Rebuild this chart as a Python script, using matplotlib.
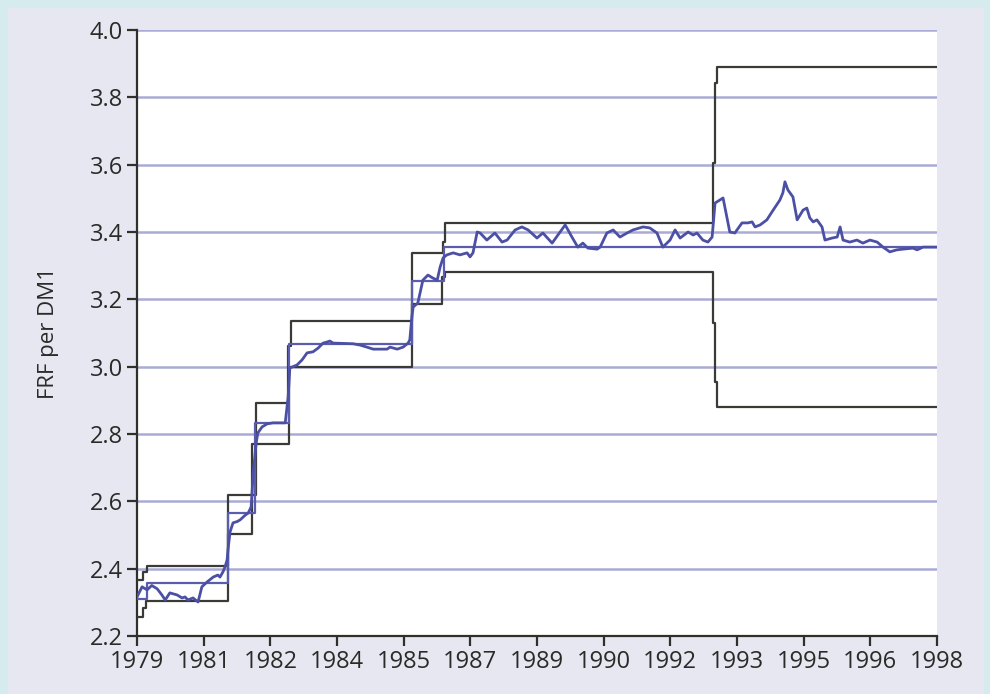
import numpy as np
import matplotlib
matplotlib.use("Agg")
import matplotlib.pyplot as plt
from matplotlib.patches import Rectangle

# x values are positions on the chart's year axis (1979 .. 1998)
tick_pos = np.linspace(1979, 1998, 13)
tick_labels = ["1979", "1981", "1982", "1984", "1985", "1987", "1989",
               "1990", "1992", "1993", "1995", "1996", "1998"]

# ERM central parity (step, held until the next point)
central_x = [1979.00, 1979.24, 1981.16, 1981.80, 1982.61, 1985.53, 1986.29, 1998.00]
central_y = [2.310, 2.357, 2.565, 2.833, 3.067, 3.254, 3.354, 3.354]

# upper and lower intervention limits
upper_x = [1979.00, 1979.14, 1979.24, 1981.16, 1981.83, 1982.59, 1982.66, 1985.53,
           1986.27, 1986.32, 1992.68, 1992.73, 1992.78, 1998.00]
upper_y = [2.366, 2.390, 2.408, 2.619, 2.892, 3.060, 3.136, 3.337,
           3.370, 3.426, 3.605, 3.843, 3.890, 3.890]
lower_x = [1979.00, 1979.14, 1979.21, 1981.16, 1981.73, 1982.61, 1985.53,
           1986.24, 1986.32, 1992.68, 1992.73, 1992.78, 1998.00]
lower_y = [2.256, 2.283, 2.304, 2.503, 2.770, 2.999, 3.186,
           3.266, 3.281, 3.130, 2.954, 2.880, 2.880]

# market rate, FRF per DM
rate_x = [1979.00, 1979.12, 1979.24, 1979.35, 1979.48, 1979.59, 1979.67, 1979.78,
          1979.95, 1980.07, 1980.14, 1980.21, 1980.33, 1980.45, 1980.54, 1980.66,
          1980.81, 1980.92, 1980.97, 1981.04, 1981.09, 1981.14, 1981.16, 1981.21,
          1981.28, 1981.38, 1981.45, 1981.57, 1981.64, 1981.71, 1981.73, 1981.76,
          1981.83, 1981.87, 1981.97, 1982.09, 1982.23, 1982.52, 1982.59, 1982.63,
          1982.80, 1982.92, 1983.04, 1983.18, 1983.30, 1983.42, 1983.51, 1983.58,
          1983.66, 1984.13, 1984.30, 1984.46, 1984.61, 1984.94, 1985.01, 1985.18,
          1985.32, 1985.44, 1985.48, 1985.53, 1985.56, 1985.67, 1985.79, 1985.91,
          1986.03, 1986.13, 1986.20, 1986.27, 1986.36, 1986.51, 1986.67, 1986.84,
          1986.91, 1986.98, 1987.08, 1987.15, 1987.31, 1987.50, 1987.67, 1987.79,
          1987.98, 1988.14, 1988.29, 1988.50, 1988.64, 1988.86, 1989.05, 1989.17,
          1989.33, 1989.47, 1989.59, 1989.71, 1989.93, 1990.00, 1990.16, 1990.31,
          1990.47, 1990.64, 1990.78, 1991.02, 1991.18, 1991.35, 1991.49, 1991.66,
          1991.78, 1991.90, 1992.09, 1992.21, 1992.30, 1992.44, 1992.56, 1992.66,
          1992.73, 1992.92, 1993.08, 1993.20, 1993.37, 1993.51, 1993.61, 1993.68,
          1993.80, 1993.96, 1994.11, 1994.27, 1994.34, 1994.39, 1994.46, 1994.58,
          1994.68, 1994.82, 1994.91, 1994.98, 1995.06, 1995.15, 1995.27, 1995.34,
          1995.51, 1995.63, 1995.70, 1995.77, 1995.93, 1996.10, 1996.24, 1996.41,
          1996.58, 1996.72, 1996.88, 1997.05, 1997.19, 1997.43, 1997.53, 1997.67,
          1997.95, 1998.00]
rate_y = [2.316, 2.346, 2.337, 2.350, 2.340, 2.322, 2.307, 2.328,
          2.322, 2.313, 2.316, 2.307, 2.313, 2.301, 2.346, 2.360,
          2.375, 2.381, 2.375, 2.390, 2.405, 2.426, 2.455, 2.509,
          2.536, 2.540, 2.545, 2.559, 2.565, 2.583, 2.620, 2.684,
          2.773, 2.803, 2.821, 2.830, 2.833, 2.833, 2.910, 2.996,
          3.005, 3.020, 3.041, 3.044, 3.055, 3.070, 3.073, 3.076,
          3.070, 3.068, 3.064, 3.058, 3.052, 3.052, 3.058, 3.052,
          3.058, 3.070, 3.080, 3.150, 3.177, 3.189, 3.257, 3.272,
          3.263, 3.257, 3.296, 3.323, 3.332, 3.338, 3.332, 3.338,
          3.326, 3.338, 3.400, 3.397, 3.376, 3.397, 3.370, 3.376,
          3.406, 3.415, 3.406, 3.382, 3.397, 3.367, 3.400, 3.421,
          3.385, 3.355, 3.367, 3.352, 3.349, 3.355, 3.397, 3.406,
          3.385, 3.397, 3.406, 3.415, 3.412, 3.397, 3.355, 3.376,
          3.406, 3.382, 3.400, 3.391, 3.397, 3.376, 3.370, 3.385,
          3.486, 3.501, 3.400, 3.397, 3.427, 3.427, 3.430, 3.415,
          3.421, 3.436, 3.465, 3.495, 3.516, 3.549, 3.525, 3.504,
          3.436, 3.465, 3.471, 3.442, 3.430, 3.436, 3.415, 3.376,
          3.382, 3.385, 3.415, 3.376, 3.370, 3.376, 3.367, 3.376,
          3.370, 3.355, 3.341, 3.347, 3.349, 3.352, 3.347, 3.355,
          3.355, 3.355]

plt.rcParams["font.family"] = ["Open Sans", "DejaVu Sans"]

fig = plt.figure(figsize=(9.9, 6.94), dpi=100, facecolor="#d5ebee")
fig.add_artist(Rectangle((0.008, 0.0), 0.986, 0.988, transform=fig.transFigure,
                         facecolor="#e7e7f1", edgecolor="none", zorder=-10))

ax = fig.add_axes([0.1384, 0.0836, 0.808, 0.8732])
ax.set_facecolor("white")

for yv in np.arange(2.4, 4.01, 0.2):
    ax.axhline(yv, color="#aaaad6", lw=1.8, zorder=1)

ax.step(upper_x, upper_y, where="post", color="#3a3a36", lw=1.6, zorder=3)
ax.step(lower_x, lower_y, where="post", color="#3a3a36", lw=1.6, zorder=3)
ax.step(central_x, central_y, where="post", color="#5a5cae", lw=1.6, zorder=4)
ax.plot(rate_x, rate_y, color="#4c50a4", lw=2.0, zorder=5)

ax.set_xlim(1979, 1998)
ax.set_ylim(2.2, 4.0)
ax.set_xticks(tick_pos)
ax.set_xticklabels(tick_labels)
ax.set_yticks(np.arange(2.2, 4.01, 0.2))
ax.set_yticklabels([f"{v:.1f}" for v in np.arange(2.2, 4.01, 0.2)])

for side in ["top", "right"]:
    ax.spines[side].set_visible(False)
for side in ["left", "bottom"]:
    ax.spines[side].set_color("#2f2f2b")
    ax.spines[side].set_linewidth(1.6)
ax.tick_params(direction="out", length=7, width=1.6, color="#2f2f2b",
               labelsize=17, labelcolor="#2a2a28", pad=3)
ax.set_ylabel("FRF per DM1", fontsize=16, color="#2a2a28", labelpad=22)

fig.savefig("out.png", dpi=100, facecolor=fig.get_facecolor())
